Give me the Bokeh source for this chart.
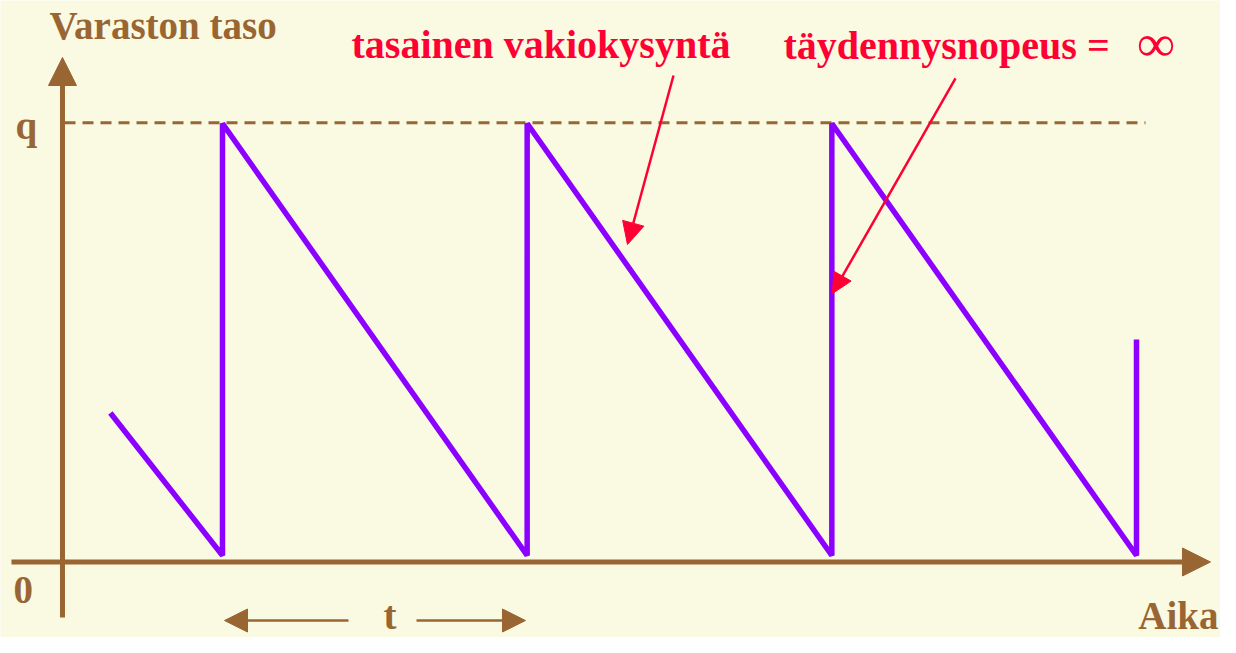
from bokeh.plotting import figure
from bokeh.models import Range1d, Label, Arrow, NormalHead
from bokeh.embed import file_html
from bokeh.resources import INLINE

# ---- data (time in order cycles, level as fraction of q) ----
saw_time = [0.632, 1, 1, 2, 2, 3, 3, 4, 4]
saw_level = [0.33, 0, 1, 0, 1, 0, 1, 0, 0.5]
q_level = 1.0
cycle_start, cycle_end = 1.0, 2.0

y_title = "Varaston taso"
x_title = "Aika"
q_label = "q"
zero_label = "0"
t_label = "t"
note_demand = "tasainen vakiokysyntä"
note_refill = "täydennysnopeus ="
note_inf = "∞"

BG = "#FAF9E2"
BROWN = "#996633"
PURPLE = "#8C00FF"
RED = "#FF0033"
FONT = "Liberation Serif"

p = figure(width=1220, height=637, output_backend="svg", toolbar_location=None,
           x_range=Range1d(0.27134, 4.27570), y_range=Range1d(-0.18981, 1.28472),
           x_axis_type=None, y_axis_type=None, min_border=0)
p.background_fill_color = BG
p.border_fill_color = BG
p.outline_line_color = None
p.xgrid.visible = False
p.ygrid.visible = False

# q reference dashed line
p.line([0.4814, 4.0295], [q_level + 0.002, q_level + 0.002], line_color=BROWN, line_width=3,
       line_dash="11 7")

# axes with arrows
p.add_layout(Arrow(x_start=0.4748, y_start=-0.1435, x_end=0.4748, y_end=1.1528,
                   line_color=BROWN, line_width=5,
                   end=NormalHead(size=28, fill_color=BROWN, line_color=BROWN, line_width=1)))
p.add_layout(Arrow(x_start=0.3074, y_start=-0.0150, x_end=4.2428, y_end=-0.0150,
                   line_color=BROWN, line_width=5,
                   end=NormalHead(size=28, fill_color=BROWN, line_color=BROWN, line_width=1)))

# sawtooth inventory
p.line(saw_time, saw_level, line_color=PURPLE, line_width=5.5)

# cycle length arrows
p.add_layout(Arrow(x_start=1.4136, y_start=-0.1505, x_end=cycle_start + 0.0066, y_end=-0.1505,
                   line_color=BROWN, line_width=2.5,
                   end=NormalHead(size=23, fill_color=BROWN, line_color=BROWN, line_width=1)))
p.add_layout(Arrow(x_start=1.6368, y_start=-0.1505, x_end=cycle_end - 0.0055, y_end=-0.1505,
                   line_color=BROWN, line_width=2.5,
                   end=NormalHead(size=23, fill_color=BROWN, line_color=BROWN, line_width=1)))

# red annotation arrows
p.add_layout(Arrow(x_start=2.4803, y_start=1.1111, x_end=2.3293, y_end=0.7199,
                   line_color=RED, line_width=2.5,
                   end=NormalHead(size=22, fill_color=RED, line_color=RED, line_width=1)))
p.add_layout(Arrow(x_start=3.4059, y_start=1.1042, x_end=3.0022, y_end=0.6065,
                   line_color=RED, line_width=2.5,
                   end=NormalHead(size=20, fill_color=RED, line_color=RED, line_width=1)))

def lab(text, x, y, color, size, align="left"):
    p.add_layout(Label(x=x, y=y, text=text, text_color=color, text_font=FONT,
                       text_font_size=size, text_font_style="bold",
                       text_align=align, text_baseline="alphabetic"))

lab(y_title, 0.4322, 1.2269, BROWN, "39px")
lab(q_label, 0.3206, 0.9954, BROWN, "39px")
lab(zero_label, 0.3140, -0.0810, BROWN, "39px")
lab(t_label, 1.5284, -0.1389, BROWN, "39px")
lab(x_title, 4.2691, -0.1389, BROWN, "39px", align="right")
lab(note_demand, 1.4234, 1.1829, RED, "40px")
lab(note_refill, 2.8413, 1.1806, RED, "40px")
lab(note_inf, 4.0032, 1.1852, RED, "52px")

open("out.html", "w").write(file_html(p, INLINE))
